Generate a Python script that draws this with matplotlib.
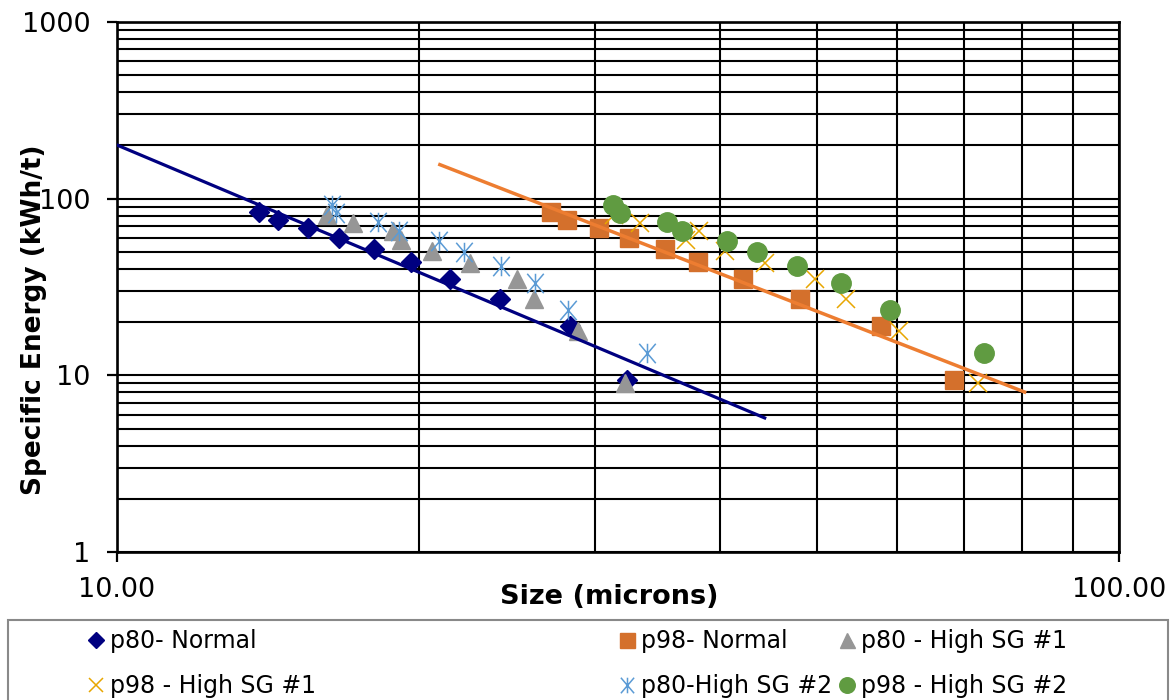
import numpy as np
import matplotlib
matplotlib.use("Agg")
import matplotlib.pyplot as plt
from matplotlib.path import Path
from matplotlib.patches import Rectangle
from matplotlib.ticker import NullFormatter

# specific energy (kWh/t) for each test, shared by the p80 and p98 series
normal_e = [84.2, 76.2, 68.6, 60.0, 51.8, 43.6, 35.1, 27.2, 19.0, 9.4]
sg1_e = [81.0, 73.2, 65.9, 58.4, 50.8, 43.1, 35.0, 27.1, 17.9, 9.1]
sg2_e = [91.5, 82.5, 73.6, 65.7, 57.7, 50.2, 41.6, 33.2, 23.5, 13.4]

# sizes (microns)
p80_normal = [13.87, 14.49, 15.52, 16.67, 18.06, 19.65, 21.48, 24.11, 28.32, 32.26]
p98_normal = [27.10, 28.11, 30.27, 32.43, 35.24, 38.04, 42.17, 48.05, 57.87, 68.48]
p80_sg1 = [16.21, 17.21, 18.87, 19.20, 20.61, 22.51, 25.08, 26.09, 28.83, 32.14]
p98_sg1 = [31.30, 33.27, 38.10, 36.98, 40.44, 44.34, 49.74, 53.42, 60.31, 72.37]
p80_sg2 = [16.38, 16.54, 18.20, 19.13, 20.96, 22.22, 24.17, 26.13, 28.21, 33.79]
p98_sg2 = [31.23, 31.77, 35.42, 36.61, 40.64, 43.49, 47.67, 52.80, 59.08, 73.38]

# x range of the two power trendlines
trend_p80_range = [10.0, 44.3]
trend_p98_range = [21.0, 80.5]

# excel style star marker: an x with a vertical bar through it
star = Path([(-0.85, -1), (0.85, 1), (-0.85, 1), (0.85, -1), (0, -1), (0, 1)],
            [Path.MOVETO, Path.LINETO, Path.MOVETO, Path.LINETO, Path.MOVETO, Path.LINETO])


def power_trend(x, y, xr):
    b, a = np.polyfit(np.log10(x), np.log10(y), 1)
    xr = np.array(xr)
    return xr, 10 ** (a + b * np.log10(xr))


fig = plt.figure(figsize=(11.76, 7), dpi=100)
ax = fig.add_axes([117 / 1176, 1 - 552 / 700, 1002 / 1176, 530 / 700])
ax.set_xscale("log")
ax.set_yscale("log")

h0, = ax.plot(p80_normal, normal_e, ls="none", marker="D", ms=10, color="#000080", mec="#000080",
              label="p80- Normal", zorder=3)
h1, = ax.plot(p98_normal, normal_e, ls="none", marker="s", ms=13.5, color="#D4702C", mec="#D4702C",
              label="p98- Normal", zorder=3)
h2, = ax.plot(p80_sg1, sg1_e, ls="none", marker="^", ms=13.5, color="#969696", mec="#969696",
              label="p80 - High SG #1", zorder=3)
h3, = ax.plot(p98_sg1, sg1_e, ls="none", marker="x", ms=13, mew=1.1, color="#E8A600",
              label="p98 - High SG #1", zorder=3)
h4, = ax.plot(p80_sg2, sg2_e, ls="none", marker=star, ms=14, mew=1.1, color="#5B9BD5",
              label="p80-High SG #2", zorder=3)
h5, = ax.plot(p98_sg2, sg2_e, ls="none", marker="o", ms=14, color="#609B41", mec="#609B41",
              label="p98 - High SG #2", zorder=3)

tx, ty = power_trend(p80_normal, normal_e, trend_p80_range)
ax.plot(tx, ty, color="#000080", lw=2.3, zorder=4)
tx, ty = power_trend(p98_normal, normal_e, trend_p98_range)
ax.plot(tx, ty, color="#ED7D31", lw=2.5, zorder=4)

ax.set_xlim(10, 100)
ax.set_ylim(1, 1000)
ax.set_xticks([10, 100])
ax.set_xticklabels(["10.00", "100.00"])
ax.set_xticks(range(20, 100, 10), minor=True)
ax.xaxis.set_minor_formatter(NullFormatter())
ax.set_yticks([1, 10, 100, 1000])
ax.set_yticklabels(["1", "10", "100", "1000"])
ax.set_yticks([m * 10 ** e for e in range(3) for m in range(2, 10)], minor=True)
ax.yaxis.set_minor_formatter(NullFormatter())

ax.tick_params(which="major", direction="out", length=7, width=1.6, labelsize=19.5, color="black")
ax.tick_params(axis="y", which="major", pad=12)
ax.tick_params(axis="x", which="major", pad=11)
ax.tick_params(which="minor", length=0)
ax.grid(True, which="both", color="black", lw=1.5)
ax.set_axisbelow(True)
for s in ax.spines.values():
    s.set_linewidth(1.9)
    s.set_color("black")

ax.set_xlabel("Size (microns)", fontsize=19.5, fontweight="bold", va="center")
ax.xaxis.set_label_coords((609 - 117) / 1002, (552 - 597) / 530)
ax.set_ylabel("Specific Energy (kWh/t)", fontsize=19, fontweight="bold", va="center")
ax.yaxis.set_label_coords((34 - 117) / 1002, (552 - 320) / 530)

# legend: three columns placed like the excel legend, one shared frame
cols = [(h0, h3), (h1, h4), (h2, h5)]
col_x = [91, 622, 842]
for (a, b), x0 in zip(cols, col_x):
    fig.legend([a, b], [a.get_label(), b.get_label()], loc="upper left",
               bbox_to_anchor=(x0 / 1176, 1 - 629 / 700), frameon=False, fontsize=17,
               handlelength=0.4, handletextpad=0.4, labelspacing=0.9, markerscale=0.8,
               borderpad=0, borderaxespad=0, numpoints=1)
fig.add_artist(Rectangle((8 / 1176, -0.02), 1160 / 1176, 1 - 620 / 700 + 0.02,
                         transform=fig.transFigure, fill=False, ec="#898989", lw=1.5))

fig.savefig("out.png", dpi=100)
